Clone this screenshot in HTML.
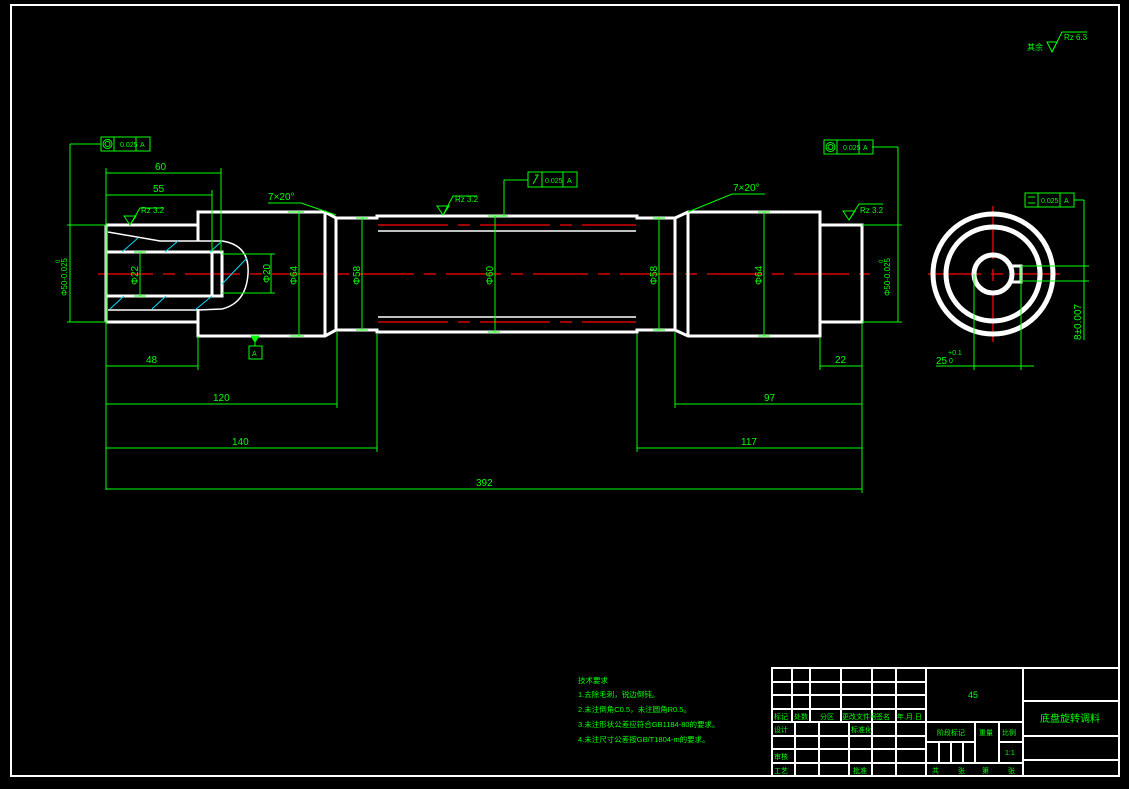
<!DOCTYPE html>
<html><head><meta charset="utf-8"><style>
html,body{margin:0;padding:0;background:#000;}
svg{display:block;}
text{font-family:"Liberation Sans","Noto Sans CJK SC",sans-serif;fill:#00ff00;}
</style></head><body>
<svg width="1129" height="789" viewBox="0 0 1129 789" xmlns="http://www.w3.org/2000/svg">
<rect width="1129" height="789" fill="#000"/>
<rect x="11" y="5" width="1108" height="771" fill="none" stroke="#fff" stroke-width="2"/>

<!-- centerline -->
<g stroke="#ff0000" stroke-width="1.3" fill="none">
<line x1="98" y1="274" x2="870" y2="274" stroke-dasharray="55,10,12,10"/>
<line x1="378" y1="225" x2="636" y2="225" stroke-dasharray="70,10,12,10"/>
<line x1="378" y1="322" x2="636" y2="322" stroke-dasharray="70,10,12,10"/>
<line x1="928" y1="274" x2="1060" y2="274" stroke-dasharray="53,10,12,10"/>
<line x1="993" y1="206" x2="993" y2="342" stroke-dasharray="53,10,12,10"/>
</g>

<!-- shaft outline -->
<g stroke="#fff" stroke-width="3" fill="none" stroke-linejoin="miter">
<polyline points="198,241 198,212 325,212 336,218 377,218 377,216 637,216 637,218 675,218 688,212 820,212 820,225 862,225 862,322 820,322 820,336 688,336 675,330 637,330 637,332 377,332 377,330 336,330 325,336 198,336 198,309"/>
<line x1="106" y1="225" x2="198" y2="225"/>
<line x1="106" y1="322" x2="198" y2="322"/>
<line x1="106" y1="225" x2="106" y2="322"/>
<line x1="325" y1="212" x2="325" y2="336"/>
<line x1="336" y1="218" x2="336" y2="330"/>
<line x1="675" y1="218" x2="675" y2="330"/>
<line x1="688" y1="212" x2="688" y2="336"/>
<line x1="820" y1="225" x2="820" y2="322"/>
<line x1="106" y1="252" x2="212" y2="252"/>
<line x1="106" y1="296" x2="212" y2="296"/>
<rect x="212" y="252" width="10" height="44"/>
</g>
<g stroke="#fff" stroke-width="1.5" fill="none">
<line x1="378" y1="231" x2="636" y2="231"/>
<line x1="378" y1="317" x2="636" y2="317"/>
<path d="M108,232 L160,241 L222,241 Q250,245 248,274 Q246,303 222,309 L198,310 L108,310"/>
</g>
<g stroke="#00e0ff" stroke-width="1" fill="none">
<line x1="122" y1="252" x2="138" y2="238"/><line x1="165" y1="252" x2="178" y2="241"/>
<line x1="210" y1="252" x2="222" y2="241"/><line x1="222" y1="284" x2="247" y2="258"/>
<line x1="110" y1="309" x2="124" y2="296"/><line x1="152" y1="309" x2="166" y2="296"/>
<line x1="195" y1="310" x2="212" y2="296"/>
</g>

<!-- end view -->
<g stroke="#fff" stroke-width="5" fill="none">
<circle cx="993" cy="274" r="60"/>
<circle cx="993" cy="274" r="47"/>
<circle cx="993" cy="274" r="19"/>
<path d="M1011,266 L1021,266 L1021,282 L1011,282" stroke-width="3"/>
</g>

<!-- dimensions -->
<g stroke="#00ff00" stroke-width="1" fill="none">
<line x1="106" y1="168" x2="106" y2="490"/>
<line x1="106" y1="173" x2="221" y2="173"/><line x1="221" y1="168" x2="221" y2="252"/>
<line x1="106" y1="195" x2="212" y2="195"/><line x1="212" y1="190" x2="212" y2="252"/>
<line x1="106" y1="366" x2="198" y2="366"/><line x1="198" y1="336" x2="198" y2="370"/>
<line x1="106" y1="404" x2="337" y2="404"/><line x1="337" y1="332" x2="337" y2="408"/>
<line x1="106" y1="448" x2="377" y2="448"/><line x1="377" y1="334" x2="377" y2="452"/>
<line x1="106" y1="489" x2="862" y2="489"/><line x1="862" y1="324" x2="862" y2="493"/>
<line x1="820" y1="366" x2="862" y2="366"/><line x1="820" y1="338" x2="820" y2="370"/>
<line x1="675" y1="404" x2="862" y2="404"/><line x1="675" y1="332" x2="675" y2="408"/>
<line x1="637" y1="448" x2="862" y2="448"/><line x1="637" y1="334" x2="637" y2="452"/>
<!-- vertical diameters -->
<line x1="140" y1="252" x2="140" y2="296"/><line x1="134" y1="252" x2="146" y2="252"/><line x1="134" y1="296" x2="146" y2="296"/>
<line x1="222" y1="254" x2="275" y2="254"/><line x1="222" y1="293" x2="275" y2="293"/><line x1="271" y1="254" x2="271" y2="293"/>
<line x1="299" y1="212" x2="299" y2="336"/><line x1="288" y1="212" x2="304" y2="212"/><line x1="290" y1="336" x2="304" y2="336"/>
<line x1="362" y1="218" x2="362" y2="330"/><line x1="356" y1="218" x2="368" y2="218"/><line x1="356" y1="330" x2="368" y2="330"/>
<line x1="495" y1="216" x2="495" y2="332"/><line x1="488" y1="216" x2="508" y2="216"/><line x1="488" y1="332" x2="500" y2="332"/>
<line x1="659" y1="218" x2="659" y2="330"/><line x1="653" y1="218" x2="665" y2="218"/><line x1="653" y1="330" x2="665" y2="330"/>
<line x1="764" y1="212" x2="764" y2="336"/><line x1="758" y1="212" x2="770" y2="212"/><line x1="758" y1="336" x2="770" y2="336"/>
<!-- left phi50 -->
<line x1="70" y1="144" x2="70" y2="322"/><line x1="70" y1="144" x2="101" y2="144"/>
<line x1="67" y1="225" x2="106" y2="225"/><line x1="67" y1="322" x2="106" y2="322"/>
<!-- right phi50 -->
<line x1="898" y1="147" x2="898" y2="322"/><line x1="872" y1="147" x2="898" y2="147"/>
<line x1="862" y1="225" x2="902" y2="225"/><line x1="862" y1="322" x2="902" y2="322"/>
<!-- end view dims -->
<line x1="974" y1="274" x2="974" y2="370"/><line x1="1021" y1="266" x2="1021" y2="370"/>
<line x1="936" y1="366" x2="1034" y2="366"/>
<line x1="1021" y1="266" x2="1089" y2="266"/><line x1="1021" y1="281" x2="1089" y2="281"/>
<line x1="1084" y1="200" x2="1084" y2="340"/><line x1="1074" y1="200" x2="1084" y2="200"/>
<!-- chamfer leaders -->
<polyline points="268,203 301,203 336,215"/>
<polyline points="765,194 732,194 688,212"/>
<!-- datum A -->
<line x1="255" y1="336" x2="255" y2="346"/>
<path d="M251,336 L259,336 L255,342 Z" fill="#00ff00"/>
<rect x="249" y="346" width="13" height="13"/>
<!-- runout leader -->
<polyline points="528,180 504,180 504,216"/>
<!-- roughness -->
<path d="M124,216 L130,225 L136,216 Z"/><polyline points="130,225 140,208 164,208"/>
<path d="M437,206 L443,215 L449,206 Z"/><polyline points="443,215 453,196 477,196"/>
<path d="M843,211 L849,220 L855,211 Z"/><polyline points="849,220 859,204 883,204"/>
<path d="M1047,42 L1052,52 L1057,42 Z"/><polyline points="1052,52 1062,32 1087,32"/>
<!-- FCF boxes -->
<rect x="101" y="137" width="49" height="14"/><line x1="114" y1="137" x2="114" y2="151"/><line x1="136" y1="137" x2="136" y2="151"/>
<circle cx="107.5" cy="144" r="4.5"/><circle cx="107.5" cy="144" r="2.5"/>
<rect x="824" y="140" width="49" height="14"/><line x1="837" y1="140" x2="837" y2="154"/><line x1="859" y1="140" x2="859" y2="154"/>
<circle cx="830.5" cy="147" r="4.5"/><circle cx="830.5" cy="147" r="2.5"/>
<rect x="528" y="172" width="49" height="15"/><line x1="542" y1="172" x2="542" y2="187"/><line x1="563" y1="172" x2="563" y2="187"/>
<polyline points="533,184 538,175 535,175"/>
<rect x="1025" y="193" width="49" height="14"/><line x1="1038" y1="193" x2="1038" y2="207"/><line x1="1060" y1="193" x2="1060" y2="207"/>
<line x1="1028" y1="197" x2="1035" y2="197"/><line x1="1028" y1="203" x2="1035" y2="203"/>
</g>

<g font-size="9">
<text x="120" y="147" font-size="7">0.025</text><text x="140" y="147" font-size="7">A</text>
<text x="843" y="150" font-size="7">0.025</text><text x="863" y="150" font-size="7">A</text>
<text x="545" y="183" font-size="7">0.025</text><text x="567" y="183" font-size="7">A</text>
<text x="1041" y="203" font-size="7">0.025</text><text x="1064" y="203" font-size="7">A</text>
<text x="252" y="356" font-size="7">A</text>
<text x="155" y="170" font-size="10">60</text>
<text x="153" y="192" font-size="10">55</text>
<text x="146" y="363" font-size="10">48</text>
<text x="213" y="401" font-size="10">120</text>
<text x="232" y="445" font-size="10">140</text>
<text x="476" y="486" font-size="10">392</text>
<text x="835" y="363" font-size="10">22</text>
<text x="764" y="401" font-size="10">97</text>
<text x="741" y="445" font-size="10">117</text>
<text x="268" y="200" font-size="10">7×20°</text>
<text x="733" y="191" font-size="10">7×20°</text>
<text x="141" y="213" font-size="8">Rz 3.2</text>
<text x="455" y="202" font-size="8">Rz 3.2</text>
<text x="860" y="213" font-size="8">Rz 3.2</text>
<text x="1064" y="40" font-size="8">Rz 6.3</text>
<text x="1027" y="50" font-size="8">其余</text>
<text x="936" y="364" font-size="10">25</text><text x="948" y="355" font-size="7">+0.1</text><text x="949" y="363" font-size="7">0</text>
<text transform="translate(138,285) rotate(-90)" font-size="10">Φ22</text>
<text transform="translate(270,283) rotate(-90)" font-size="10">Φ20</text>
<text transform="translate(297,285) rotate(-90)" font-size="10">Φ64</text>
<text transform="translate(360,285) rotate(-90)" font-size="10">Φ58</text>
<text transform="translate(493,285) rotate(-90)" font-size="10">Φ60</text>
<text transform="translate(657,285) rotate(-90)" font-size="10">Φ58</text>
<text transform="translate(762,285) rotate(-90)" font-size="10">Φ64</text>
<text transform="translate(67,296) rotate(-90)" font-size="8">Φ50-0.025</text>
<text transform="translate(60,263) rotate(-90)" font-size="6">0</text>
<text transform="translate(890,296) rotate(-90)" font-size="8">Φ50-0.025</text>
<text transform="translate(883,263) rotate(-90)" font-size="6">0</text>
<text transform="translate(1081,340) rotate(-90)" font-size="10">8±0.007</text>
</g>

<!-- notes -->
<g font-size="7.5">
<text x="578" y="683">技术要求</text>
<text x="578" y="697">1.去除毛刺，锐边倒钝。</text>
<text x="578" y="712">2.未注倒角C0.5，未注圆角R0.5。</text>
<text x="578" y="727">3.未注形状公差应符合GB1184-80的要求。</text>
<text x="578" y="742">4.未注尺寸公差按GB/T1804-m的要求。</text>
</g>

<!-- title block -->
<g stroke="#fff" stroke-width="2" fill="none">
<rect x="772" y="668" width="347" height="108"/>
<line x1="772" y1="682" x2="926" y2="682"/><line x1="772" y1="695" x2="926" y2="695"/>
<line x1="772" y1="709" x2="926" y2="709"/><line x1="772" y1="722" x2="1023" y2="722"/>
<line x1="772" y1="736" x2="926" y2="736"/><line x1="772" y1="749" x2="926" y2="749"/>
<line x1="772" y1="763" x2="1023" y2="763"/>
<line x1="792" y1="668" x2="792" y2="722"/><line x1="810" y1="668" x2="810" y2="722"/>
<line x1="841" y1="668" x2="841" y2="722"/><line x1="872" y1="668" x2="872" y2="776"/>
<line x1="896" y1="668" x2="896" y2="776"/>
<line x1="795" y1="722" x2="795" y2="776"/><line x1="819" y1="722" x2="819" y2="776"/>
<line x1="849" y1="722" x2="849" y2="776"/>
<line x1="926" y1="668" x2="926" y2="776"/><line x1="1023" y1="668" x2="1023" y2="776"/>
<line x1="926" y1="742" x2="976" y2="742"/>
<line x1="975" y1="722" x2="975" y2="763"/><line x1="999" y1="722" x2="999" y2="763"/>
<line x1="999" y1="742" x2="1023" y2="742"/>
<line x1="939" y1="742" x2="939" y2="763"/><line x1="951" y1="742" x2="951" y2="763"/><line x1="963" y1="742" x2="963" y2="763"/>
<line x1="1023" y1="701" x2="1119" y2="701"/><line x1="1023" y1="736" x2="1119" y2="736"/>
<line x1="1023" y1="760" x2="1119" y2="760"/>
</g>
<g font-size="7">
<text x="774" y="719">标记</text><text x="794" y="719">处数</text><text x="820" y="719">分区</text>
<text x="842" y="719">更改文件号</text><text x="876" y="719">签名</text><text x="897" y="719">年.月.日</text>
<text x="774" y="732">设计</text><text x="851" y="732">标准化</text>
<text x="774" y="759">审核</text><text x="774" y="773">工艺</text><text x="853" y="773">批准</text>
<text x="937" y="735">阶段标记</text><text x="979" y="735">重量</text><text x="1002" y="735">比例</text>
<text x="1005" y="755">1:1</text>
<text x="932" y="773">共</text><text x="958" y="773">张</text><text x="982" y="773">第</text><text x="1008" y="773">张</text>
<text x="968" y="698" font-size="9">45</text>
<text x="1040" y="722" font-size="10">底盘旋转调料</text>
</g>
</svg>
</body></html>
